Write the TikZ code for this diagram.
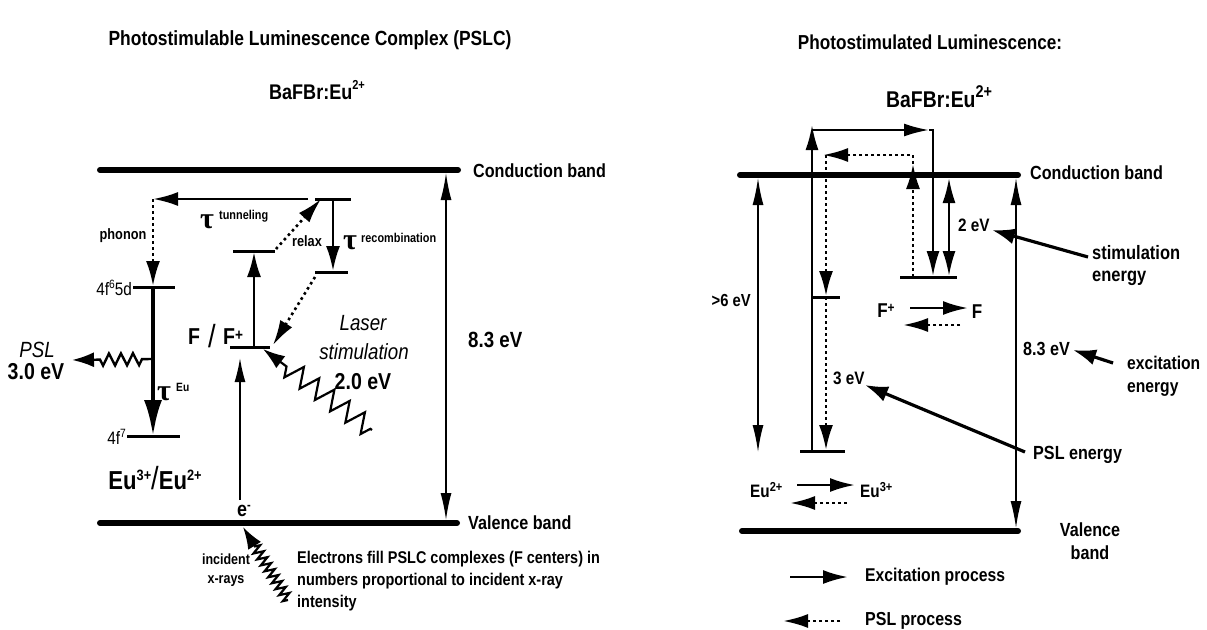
\documentclass[tikz,border=0pt]{standalone}
\usepackage{fontspec}
\setmainfont{Liberation Sans}[FakeStretch=0.85]
\newfontfamily\greek{Liberation Serif}
\usetikzlibrary{arrows.meta,decorations.pathmorphing}
\newcommand{\fsz}[1]{\fontsize{#1}{#1}\selectfont}
\newcommand{\sps}[3]{\raisebox{#1pt}{\fsz{#2}#3}}
\newcommand{\tauc}{{\greek\bfseries\fsz{30}τ}}
\begin{document}
\begin{tikzpicture}[x=1pt,y=-1pt,
 every node/.style={inner sep=0pt},
 band/.style={line width=6pt,line cap=round},
 lvl/.style={line width=3pt},
 sarr/.style={line width=2.6pt,-{Latex[length=25pt,width=14pt]}},
 sarrb/.style={line width=2.3pt,-{Latex[length=25pt,width=13pt]}},
 tarr/.style={line width=1.6pt,{Latex[length=27pt,width=11pt]}-{Latex[length=27pt,width=11pt]}},
 darr/.style={line width=2.6pt,dash pattern=on 2.6pt off 3.4pt,-{Latex[length=25pt,width=14pt]}},
 ptr/.style={line width=3.2pt,-{Latex[length=23pt,width=16pt]}},
 bt/.style={font=\bfseries\fsz{#1}},
 zz/.style={line width=2.2pt,decorate,-{Latex[length=22pt,width=15pt]}},
]
\useasboundingbox (0,0) rectangle (1207,629);
\fill[white] (0,0) rectangle (1207,629);

% ---------------- LEFT ----------------
\node[bt=20.5] (t1) at (310,40) {Photostimulable Luminescence Complex (PSLC)};
\node[bt=21.2,anchor=west] (f1) at (269,90) {BaFBr:Eu\sps{10}{13}{2+}};

\coordinate (cbL) at (100,170); \coordinate (cbR) at (458,170);
\draw[band] (cbL) -- (cbR);
\node[bt=19,anchor=west] (cbt) at (473,171) {Conduction band};
\coordinate (vbL) at (100,523); \coordinate (vbR) at (457,523);
\draw[band] (vbL) -- (vbR);
\node[bt=19,anchor=west] (vbt) at (468,523) {Valence band};
\coordinate (g1) at (446,173); \coordinate (g2) at (446,520);
\draw[tarr] (g1) -- (g2);
\node[bt=22,anchor=west] (e83) at (468,340) {8.3 eV};

% tunneling
\coordinate (tlA) at (315,199); \coordinate (tlB) at (351,199);
\draw[lvl] (tlA) -- (tlB);
\coordinate (tun0) at (308,199); \coordinate (tun1) at (153,199);
\draw[sarr] (tun0) -- (tun1);
\node (tau1) at (207,222) {\tauc};
\node[bt=12.8,anchor=west] (tunl) at (219,216) {tunneling};
\coordinate (eu5d) at (153,286);
\draw[darr] (tun1) -- (eu5d);
\node[bt=15] (phon) at (123,236) {phonon};

% Eu levels
\coordinate (l5A) at (133,287); \coordinate (l5B) at (175,287);
\draw[lvl] (l5A) -- (l5B);
\node[font=\fsz{18},anchor=east] (l5t) at (132,288) {4f\sps{7}{12}{6}5d};
\coordinate (eu5s) at (153,287); \coordinate (eu4f) at (153,436);
\draw[line width=4.5pt,-{Latex[length=36pt,width=18pt]}] (eu5s) -- (eu4f);
\coordinate (l7A) at (127,436); \coordinate (l7B) at (180,436);
\draw[lvl] (l7A) -- (l7B);
\node[font=\fsz{18},anchor=east] (l7t) at (126,437) {4f\sps{7}{12}{7}};
\node (tau2) at (164,394) {\tauc};
\node[bt=12,anchor=west] (taueu) at (176,387) {Eu};

% PSL emission
\coordinate (psl0) at (152,359); \coordinate (psl1) at (72,360);
\draw[zz,line width=2.4pt,decoration={zigzag,segment length=12pt,amplitude=6pt,pre length=10pt,post length=24pt},-{Latex[length=22pt,width=15pt]}] (psl0) -- (psl1);
\node[font=\itshape\fsz{22}] (psl) at (37,350) {PSL};
\node[bt=23] (e30) at (36,372) {3.0 eV};
\node[bt=26] (eus) at (155,478) {Eu\sps{9}{15}{3+}{\mdseries\fsz{32}/}Eu\sps{9}{15}{2+}};

% F centre
\coordinate (fgA) at (230,347); \coordinate (fgB) at (270,347);
\draw[lvl] (fgA) -- (fgB);
\coordinate (feA) at (233,251); \coordinate (feB) at (275,251);
\draw[lvl] (feA) -- (feB);
\coordinate (fu0) at (254,346); \coordinate (fu1) at (254,252);
\draw[sarr] (fu0) -- (fu1);
\coordinate (rx0) at (276,249); \coordinate (rx1) at (321,199);
\draw[darr] (rx0) -- (rx1);
\node[bt=15] (relax) at (307,241) {relax};
\coordinate (rlA) at (315,272); \coordinate (rlB) at (348,272);
\draw[lvl] (rlA) -- (rlB);
\coordinate (rc0) at (333,199); \coordinate (rc1) at (333,271);
\draw[sarr] (rc0) -- (rc1);
\node (tau3) at (350,243) {\tauc};
\node[bt=12.8,anchor=west] (recl) at (361,238) {recombination};
\coordinate (rd0) at (315,277); \coordinate (rd1) at (273,345);
\draw[darr] (rd0) -- (rd1);
\coordinate (lz0) at (372,430); \coordinate (lz1) at (263,349);
\draw[zz,decoration={zigzag,segment length=19pt,amplitude=10pt,pre length=2pt,post length=26pt}] (lz0) -- (lz1);
\node[bt=23] (fF) at (194,337) {F};
\node[font=\fsz{32}] (fsl) at (212,336) {/};
\node[bt=23] (fFp) at (233,337) {F\sps{4}{16}{+}};
\node[font=\itshape\fsz{22}] (las) at (363,323) {Laser};
\node[font=\itshape\fsz{22}] (stim) at (364,352) {stimulation};
\node[bt=23] (e20) at (363,382) {2.0 eV};

% electron / x-rays
\coordinate (ex0) at (240,500); \coordinate (ex1) at (240,358);
\draw[line width=1.5pt,-{Latex[length=24pt,width=11pt]}] (ex0) -- (ex1);
\node[bt=21] (em) at (244,511) {e\sps{7}{13}{-}};
\coordinate (xr0) at (288,600); \coordinate (xr1) at (243,527);
\draw[zz,decoration={zigzag,segment length=7pt,amplitude=5pt,post length=22pt}] (xr0) -- (xr1);
\node[font=\bfseries\fontsize{14.7}{19}\selectfont,align=center] (inc) at (226,570) {incident\\x-rays};
\node[font=\bfseries\fontsize{17}{22}\selectfont,align=left,anchor=north west] (elec) at (297,551) {Electrons fill PSLC complexes (F centers) in\\numbers proportional to incident x-ray\\intensity};

% ---------------- RIGHT ----------------
\node[bt=20.2] (t2) at (930,42) {Photostimulated Luminescence:};
\node[bt=22.8,anchor=west] (f2) at (886,97) {BaFBr:Eu\sps{10}{17}{2+}};

\coordinate (rcbL) at (740,175); \coordinate (rcbR) at (1018,175);
\draw[band] (rcbL) -- (rcbR);
\node[bt=19,anchor=west] (rcbt) at (1030,173) {Conduction band};
\coordinate (rvbL) at (742,531); \coordinate (rvbR) at (1018,531);
\draw[band] (rvbL) -- (rvbR);
\node[font=\bfseries\fontsize{19}{23}\selectfont,align=center] (rvbt) at (1090,541) {Valence\\band};

\coordinate (g6a) at (758,178); \coordinate (g6b) at (758,452);
\draw[tarr] (g6a) -- (g6b);
\node[bt=17.4,anchor=east] (e6) at (751,301) {>6 eV};
\coordinate (g8a) at (1016,178); \coordinate (g8b) at (1016,528);
\draw[tarr] (g8a) -- (g8b);
\node[bt=19,anchor=west] (e83r) at (1023,349) {8.3 eV};
\node[font=\bfseries\fontsize{18.4}{23}\selectfont,align=left,anchor=west] (exen) at (1127,376) {excitation\\energy};
\coordinate (pa0) at (1113,363); \coordinate (pa1) at (1073,350);
\draw[ptr] (pa0) -- (pa1);

% levels
\coordinate (l2A) at (900,277); \coordinate (l2B) at (957,277);
\draw[lvl] (l2A) -- (l2B);
\coordinate (l1A) at (813,297); \coordinate (l1B) at (840,297);
\draw[lvl] (l1A) -- (l1B);
\coordinate (l0A) at (800,451); \coordinate (l0B) at (845,451);
\draw[lvl] (l0A) -- (l0B);

% solid loop
\coordinate (s0) at (812,451); \coordinate (s1) at (812,125);
\coordinate (s2) at (812,130); \coordinate (s3) at (929,130);
\coordinate (s4) at (933,130); \coordinate (s5) at (933,276);
\draw[sarrb] (s0) -- (s1);
\draw[sarrb] (s2) -- (s3);
\draw[sarrb] (s3) -- (s4) -- (s5);
\coordinate (d2a) at (949,178); \coordinate (d2b) at (949,276);
\draw[line width=2.3pt,{Latex[length=25pt,width=13pt]}-{Latex[length=25pt,width=13pt]}] (d2a) -- (d2b);
\node[bt=18,anchor=west] (e2) at (958,225) {2 eV};
\node[font=\bfseries\fontsize{19.4}{22}\selectfont,align=left,anchor=west] (stimen) at (1092,266) {stimulation\\energy};
\coordinate (pb0) at (1088,257); \coordinate (pb1) at (992,230);
\draw[ptr] (pb0) -- (pb1);

% dotted loop
\coordinate (p0) at (913,277); \coordinate (p1) at (913,164);
\coordinate (p2) at (913,155); \coordinate (p3) at (823,155);
\coordinate (p4) at (826,155); \coordinate (p5) at (826,296);
\coordinate (p6) at (826,297); \coordinate (p7) at (826,450);
\draw[darr] (p0) -- (p1);
\draw[darr] (p1) -- (p2) -- (p3);
\draw[darr] (p4) -- (p5);
\draw[darr] (p6) -- (p7);
\node[bt=18,anchor=west] (e3) at (833,378) {3 eV};
\node[bt=19,anchor=west] (psle) at (1033,455) {PSL energy};
\coordinate (pc0) at (1025,452); \coordinate (pc1) at (865,385);
\draw[ptr] (pc0) -- (pc1);

% F+ <-> F
\node[bt=20] (rfp) at (886,311) {F\sps{5}{14}{+}};
\coordinate (ff0) at (910,308); \coordinate (ff1) at (968,308);
\draw[sarr] (ff0) -- (ff1);
\node[bt=20] (rf) at (977,312) {F};
\coordinate (fd0) at (960,325); \coordinate (fd1) at (903,325);
\draw[darr] (fd0) -- (fd1);

% Eu2+ <-> Eu3+
\node[bt=18,anchor=west] (reu2) at (750,490) {Eu\sps{6}{13}{2+}};
\coordinate (ee0) at (797,485); \coordinate (ee1) at (855,485);
\draw[sarr] (ee0) -- (ee1);
\node[bt=18,anchor=west] (reu3) at (860,490) {Eu\sps{6}{13}{3+}};
\coordinate (ed0) at (847,503); \coordinate (ed1) at (790,503);
\draw[darr] (ed0) -- (ed1);

% legend
\coordinate (lg0) at (790,577); \coordinate (lg1) at (848,577);
\draw[sarr] (lg0) -- (lg1);
\node[bt=18.5,anchor=west] (lgt1) at (865,577) {Excitation process};
\coordinate (lh0) at (840,621); \coordinate (lh1) at (783,621);
\draw[darr] (lh0) -- (lh1);
\node[bt=18.8,anchor=west] (lgt2) at (865,621) {PSL process};
\end{tikzpicture}
\end{document}
